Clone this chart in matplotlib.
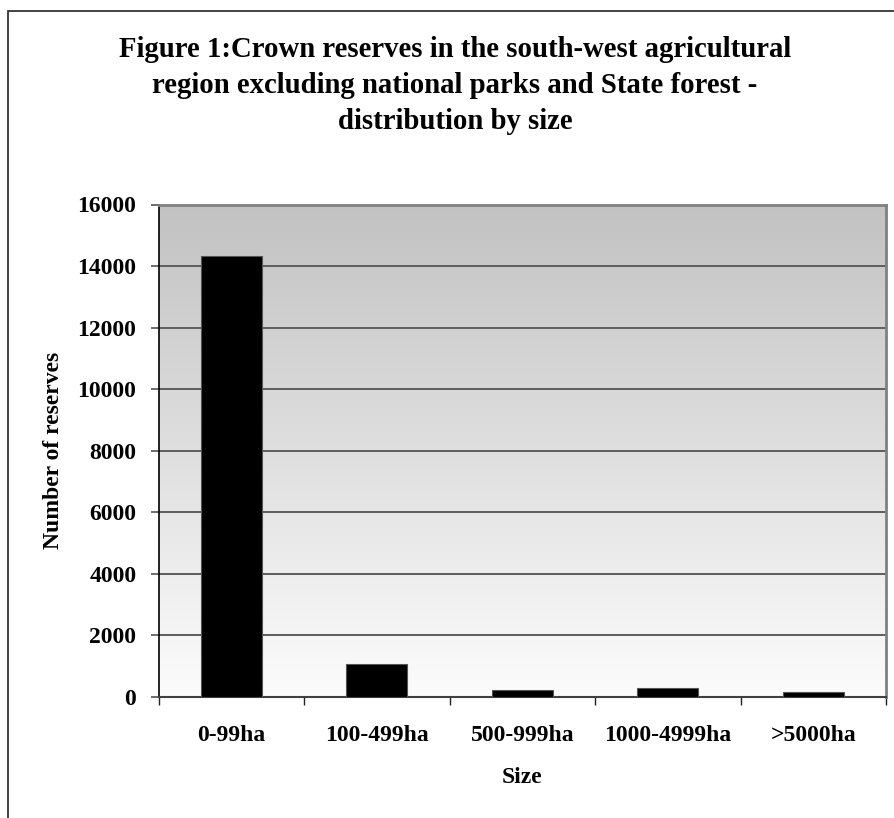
import numpy as np
import matplotlib
matplotlib.use('Agg')
import matplotlib.pyplot as plt
from matplotlib.patches import Rectangle

# Chart data
categories = ['0-99ha', '100-499ha', '500-999ha', '1000-4999ha', '>5000ha']
reserves = [14330, 1080, 235, 290, 160]
y_ticks = [0, 2000, 4000, 6000, 8000, 10000, 12000, 14000, 16000]

title = ('Figure 1:Crown reserves in the south-west agricultural\n'
         'region excluding national parks and State forest -\n'
         'distribution by size')

plt.rcParams['font.family'] = ['Liberation Serif', 'DejaVu Serif']
plt.rcParams['font.weight'] = 'bold'
plt.rcParams['axes.labelweight'] = 'bold'

W, H = 894, 818
fig = plt.figure(figsize=(W / 100, H / 100), dpi=100)
fig.patch.set_facecolor('white')

# outer chart frame (only top and left edges fall inside the picture)
fig.add_artist(Rectangle((8 / W, -0.1), 2, 1 - 11 / H + 0.1,
                         transform=fig.transFigure, fill=False,
                         edgecolor='#222222', linewidth=1.2))

ax = fig.add_axes([158.5 / W, 1 - 697 / H, 727.5 / W, 492.5 / H])

# grey-to-white gradient behind the plot
grad = np.linspace(0, 1, 256).reshape(-1, 1)
ax.imshow(grad, extent=(0, 1, 0, 1), transform=ax.transAxes,
          cmap=matplotlib.colors.LinearSegmentedColormap.from_list(
              'bg', ['#fcfcfc', '#c2c2c2']),
          origin='lower', aspect='auto', zorder=0)

x = np.arange(len(categories))
ax.bar(x, reserves, width=0.42, color='black', edgecolor='#555555',
       linewidth=0.8, zorder=3)

ax.set_xlim(-0.5, len(categories) - 0.5)
ax.set_ylim(0, 16000)
ax.set_yticks(y_ticks)
ax.set_yticklabels([str(v) for v in y_ticks])
ax.yaxis.grid(True, color='#5e5e5e', linewidth=1.4, zorder=1)
ax.set_axisbelow(True)

ax.set_xticks(x)
ax.set_xticklabels(categories)
ax.set_xticks(np.arange(len(categories) + 1) - 0.5, minor=True)
ax.tick_params(axis='x', which='major', length=0, pad=20, labelsize=17)
ax.tick_params(axis='x', which='minor', length=6, width=1, color='#222222',
               direction='out')
ax.tick_params(axis='y', length=6, width=1.2, color='#555555', pad=10,
               labelsize=17)

for side in ['top', 'right']:
    ax.spines[side].set_color('#808080')
    ax.spines[side].set_linewidth(2)
ax.spines['left'].set_color('black')
ax.spines['left'].set_linewidth(1.2)
ax.spines['bottom'].set_color('#404040')
ax.spines['bottom'].set_linewidth(1.5)

ax.set_xlabel('Size', fontsize=17)
ax.xaxis.set_label_coords(0.5, -0.143)
ax.set_ylabel('Number of reserves', fontsize=17)
ax.yaxis.set_label_coords(-0.13, 0.5)

fig.text(455 / W, 1 - 36 / H, title, ha='center', va='top',
         fontsize=20.7, fontweight='bold', linespacing=1.42)

fig.savefig('out.png', dpi=100)
